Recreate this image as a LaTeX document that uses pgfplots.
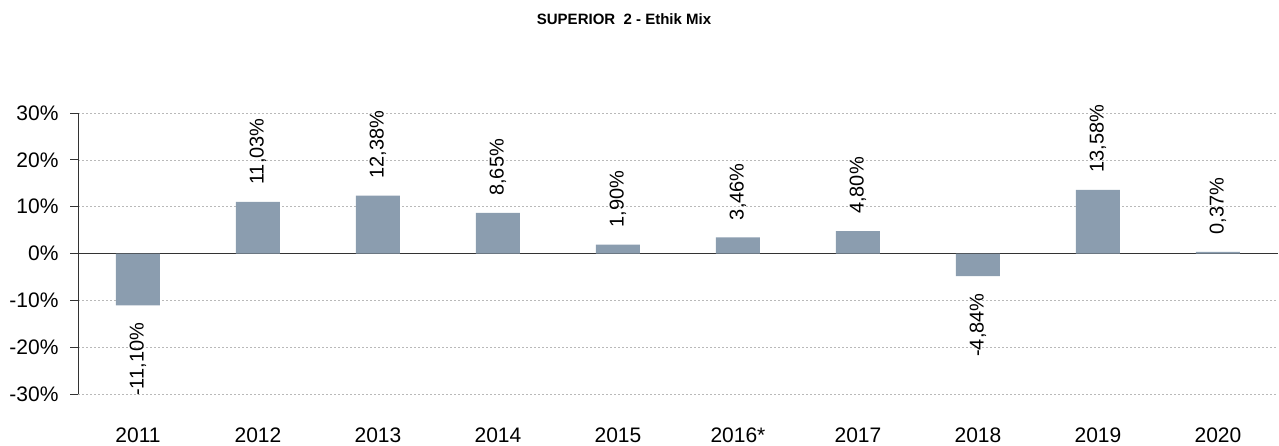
\documentclass[border=0pt]{standalone}
\usepackage{pgfplots}
\pgfplotsset{compat=1.18}
\usepackage{pgfplotstable}
\usepackage{graphicx}
\usepackage{fontspec}
\setmainfont{Liberation Sans}
\definecolor{barcol}{RGB}{139,157,175}
\pgfplotstableread{
x y
0 -11.10
1 11.03
2 12.38
3 8.65
4 1.90
5 3.46
6 4.80
7 -4.84
8 13.58
9 0.37
}\datatab
\begin{document}
\begin{tikzpicture}
\path[use as bounding box] (0,0) rectangle (1279pt,445pt);
\node[font=\bfseries\fontsize{15}{17}\selectfont] at (624pt,426pt) {SUPERIOR\ \ 2 - Ethik Mix};
\begin{axis}[
  at={(78pt,51pt)}, anchor=south west,
  scale only axis, width=1200pt, height=281pt,
  xmin=-0.5, xmax=9.5, ymin=-30, ymax=30,
  ytick={-30,-20,...,30},
  xtick={0,...,9},
  xticklabels={2011,2012,2013,2014,2015,2016*,2017,2018,2019,2020},
  axis x line*=bottom, axis y line*=left,
  x axis line style={draw=none},
  y axis line style={draw=black!80, line width=0.8pt},
  xtick style={draw=none},
  ytick style={draw=black!80, line width=0.8pt},
  tick align=outside, major tick length=8pt,
  ymajorgrids, major grid style={gray!55, dash pattern=on 2pt off 2pt, line width=0.5pt},
  extra y ticks={0}, extra y tick labels={},
  extra y tick style={grid=major, major grid style={solid, black!80, line width=0.8pt}},
  /pgf/number format/assume math mode=true,
  yticklabel={\pgfmathprintnumber{\tick}\%},
  ticklabel style={font=\fontsize{21}{24}\selectfont},
  yticklabel style={xshift=-8pt},
  xticklabel style={yshift=-22pt},
  ybar, bar width=44pt,
  clip=false,
]
\addplot[fill=barcol, draw=none,
  point meta=y,
  nodes near coords={\rotatebox{90}{\pgfmathprintnumber[fixed, fixed zerofill, precision=2, use comma, assume math mode=true]{\pgfplotspointmeta}\%}},
  nodes near coords align=vertical,
  every node near coord/.append style={font=\fontsize{20}{23}\selectfont, black, inner sep=17pt},
] table[x=x, y=y] {\datatab};
\end{axis}
\end{tikzpicture}
\end{document}
